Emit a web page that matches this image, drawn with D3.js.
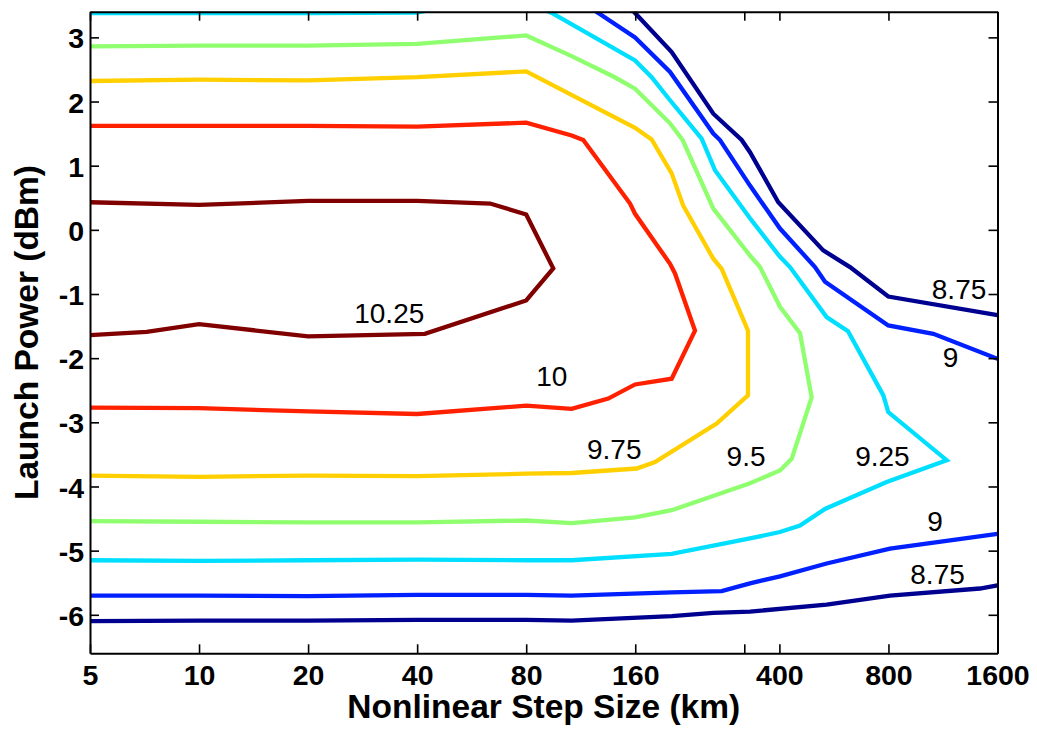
<!DOCTYPE html>
<html>
<head>
<meta charset="utf-8">
<script src="https://cdn.jsdelivr.net/npm/d3@7"></script>
<style>
  body { margin: 0; background: #fff; }
  svg text { font-family: "Liberation Sans", Arial, sans-serif; fill: #000; }
</style>
</head>
<body>
<div id="chart"></div>
<script>
// Axis ticks
const xTicks = [5, 10, 20, 40, 80, 160, 320, 400, 800, 1600];
const xTickLabels = ["5", "10", "20", "40", "80", "160", "", "400", "800", "1600"];
const yTicks = [-6, -5, -4, -3, -2, -1, 0, 1, 2, 3];

// Contour levels, each branch as [step km, power dBm]
const levels = [10.25, 10, 9.75, 9.5, 9.25, 9, 8.75];

const c1025 = [[5, 0.43], [10, 0.39], [20, 0.45], [40, 0.45], [63.6, 0.41], [80, 0.24], [95, -0.6],
  [80, -1.1], [42, -1.62], [20, -1.66], [10, -1.47], [7.17, -1.59], [5, -1.64]];

const c1000 = [[5, 1.62], [10, 1.62], [20, 1.62], [40, 1.61], [80, 1.67], [106.8, 1.47], [115, 1.4],
  [154.8, 0.41], [159.8, 0.25], [199.6, -0.53], [206, -0.68], [233.9, -1.57], [201.7, -2.32],
  [159.8, -2.41], [134.8, -2.63], [106.8, -2.79], [80, -2.74], [40, -2.87], [20, -2.83],
  [10, -2.78], [5, -2.77]];

const c975 = [[5, 2.32], [10, 2.34], [20, 2.33], [40, 2.38], [80, 2.47], [159.8, 1.59], [177.6, 1.41],
  [201.7, 0.88], [216.9, 0.38], [262.8, -0.45], [277.2, -0.61], [327.6, -1.57], [327.6, -2.58],
  [268.5, -3.02], [181.4, -3.62], [161.5, -3.72], [106.8, -3.79], [80, -3.8], [40, -3.84],
  [20, -3.83], [10, -3.85], [5, -3.83]];

const c950 = [[5, 2.86], [10, 2.87], [20, 2.87], [40, 2.9], [80, 3.03], [105.7, 2.72], [139.2, 2.39],
  [159.8, 2.2], [199.6, 1.66], [216.3, 1.4], [262.8, 0.33], [331.8, -0.4], [353.6, -0.58],
  [401.5, -1.2], [456, -1.61], [491, -2.61], [432.5, -3.57], [401.5, -3.75], [331.8, -3.95],
  [201.7, -4.37], [159.8, -4.48], [106.8, -4.57], [80, -4.53], [40, -4.56], [20, -4.56],
  [10, -4.55], [5, -4.54]];

const c925 = [[5, 3.38], [10, 3.38], [20, 3.38], [40, 3.385], [50, 3.5], [85, 3.5], [94.1, 3.38],
  [159.8, 2.64], [177.6, 2.38], [199.6, 2.02], [244, 1.42], [265.6, 0.93], [331.8, 0.18],
  [401.5, -0.42], [427.8, -0.58], [540, -1.36], [618.7, -1.58], [774.5, -2.58], [799, -2.84],
  [1158, -3.59], [791, -3.93], [534.5, -4.35], [456, -4.61], [401.5, -4.71], [331.8, -4.81],
  [201.7, -5.05], [106.8, -5.15], [80, -5.15], [40, -5.14], [20, -5.15], [10, -5.16], [5, -5.15]];

const c900Upper = [[112.6, 3.57], [126.5, 3.38], [159.8, 3.0], [199.6, 2.46], [262.8, 1.5],
  [274.2, 1.4], [331.8, 0.69], [401.5, 0.02], [501.5, -0.58], [534.5, -0.81], [799, -1.49],
  [1064, -1.62], [1600, -2.01]];
const c900Lower = [[5, -5.7], [10, -5.7], [20, -5.71], [40, -5.69], [80, -5.69], [106.8, -5.7],
  [201.7, -5.65], [277.2, -5.63], [331.8, -5.51], [401.5, -5.4], [540, -5.2], [808, -4.97],
  [1600, -4.74]];

const c875Upper = [[149, 3.56], [159.8, 3.38], [201.7, 2.77], [262.8, 1.81], [314.7, 1.4],
  [331.8, 1.21], [397.2, 0.43], [528.5, -0.32], [626.5, -0.58], [799, -1.04], [1600, -1.33]];
const c875Lower = [[5, -6.1], [10, -6.09], [20, -6.09], [40, -6.08], [80, -6.08], [106.8, -6.09],
  [201.7, -6.02], [262.8, -5.97], [331.8, -5.95], [540, -5.84], [808, -5.7], [1431, -5.59],
  [1600, -5.54]];

// Inline labels: [text, step km, power dBm]
const contourLabels = [["10.25", 33.5, -1.3], ["10", 94.1, -2.27], ["9.75", 140, -3.42],
  ["9.5", 323.6, -3.53], ["9.25", 770, -3.52], ["9", 1075, -4.54], ["8.75", 1093, -5.36],
  ["9", 1187, -1.98], ["8.75", 1253, -0.92]];

// Jet colours for the 7 levels
const levelColors = {
  10.25: "#800000", 10: "#ff2000", 9.75: "#ffcf00", 9.5: "#8fff70",
  9.25: "#00dfff", 9: "#0020ff", 8.75: "#000090"
};

const branches = [
  { level: 10.25, pts: c1025 }, { level: 10, pts: c1000 }, { level: 9.75, pts: c975 },
  { level: 9.5, pts: c950 }, { level: 9.25, pts: c925 },
  { level: 9, pts: c900Upper }, { level: 9, pts: c900Lower },
  { level: 8.75, pts: c875Upper }, { level: 8.75, pts: c875Lower }
];

const W = 1037, H = 729;
const margin = { top: 11.7, right: 39.5, bottom: 75.7, left: 90 };
const width = W - margin.left - margin.right;
const height = H - margin.top - margin.bottom;

const svg = d3.select("#chart").append("svg")
  .attr("width", W)
  .attr("height", H);

const g = svg.append("g")
  .attr("transform", `translate(${margin.left},${margin.top})`);

const x = d3.scaleLog().domain([5, 1600]).range([0, width]);
const y = d3.scaleLinear().domain([-6.6, 3.4]).range([height, 0]);

g.append("clipPath").attr("id", "plotClip")
  .append("rect").attr("width", width).attr("height", height);

const line = d3.line().x(d => x(d[0])).y(d => y(d[1]));

g.append("g").attr("clip-path", "url(#plotClip)")
  .selectAll("path")
  .data(branches)
  .join("path")
  .attr("d", d => line(d.pts))
  .attr("fill", "none")
  .attr("stroke", d => levelColors[d.level])
  .attr("stroke-width", 4.3)
  .attr("stroke-linejoin", "miter");

g.selectAll(".clabel")
  .data(contourLabels)
  .join("text")
  .attr("class", "clabel")
  .attr("x", d => x(d[1]))
  .attr("y", d => y(d[2]))
  .attr("dy", "0.36em")
  .attr("text-anchor", "middle")
  .style("font-size", "28px")
  .text(d => d[0]);

// Axes (ticks point inward, box all round)
const xAxis = d3.axisBottom(x).tickValues(xTicks)
  .tickFormat((d, i) => xTickLabels[i]).tickSizeInner(-9).tickSizeOuter(0).tickPadding(11);
const yAxis = d3.axisLeft(y).tickValues(yTicks)
  .tickFormat(d => String(d)).tickSizeInner(-9).tickSizeOuter(0).tickPadding(6);

const gx = g.append("g").attr("transform", `translate(0,${height})`).call(xAxis);
const gy = g.append("g").call(yAxis);
const gt = g.append("g").call(d3.axisTop(x).tickValues(xTicks).tickFormat("").tickSizeInner(-9).tickSizeOuter(0));
const gr = g.append("g").attr("transform", `translate(${width},0)`)
  .call(d3.axisRight(y).tickValues(yTicks).tickFormat("").tickSizeInner(-9).tickSizeOuter(0));

[gx, gy, gt, gr].forEach(a => {
  a.select(".domain").attr("stroke", "#000").attr("stroke-width", 2);
  a.selectAll(".tick line").attr("stroke", "#000").attr("stroke-width", 1.6);
  a.selectAll(".tick text")
    .style("font-family", '"Liberation Sans", Arial, sans-serif')
    .style("font-size", "28.5px")
    .style("font-weight", "bold")
    .attr("fill", "#000");
});
gy.selectAll(".tick text").attr("dy", "0.37em");

// Axis titles
svg.append("text")
  .attr("x", margin.left + width / 2)
  .attr("y", 718)
  .attr("text-anchor", "middle")
  .style("font-size", "33.5px")
  .style("font-weight", "bold")
  .text("Nonlinear Step Size (km)");

svg.append("text")
  .attr("transform", `translate(38,${margin.top + height / 2}) rotate(-90)`)
  .attr("text-anchor", "middle")
  .style("font-size", "33.5px")
  .style("font-weight", "bold")
  .text("Launch Power (dBm)");
</script>
</body>
</html>
